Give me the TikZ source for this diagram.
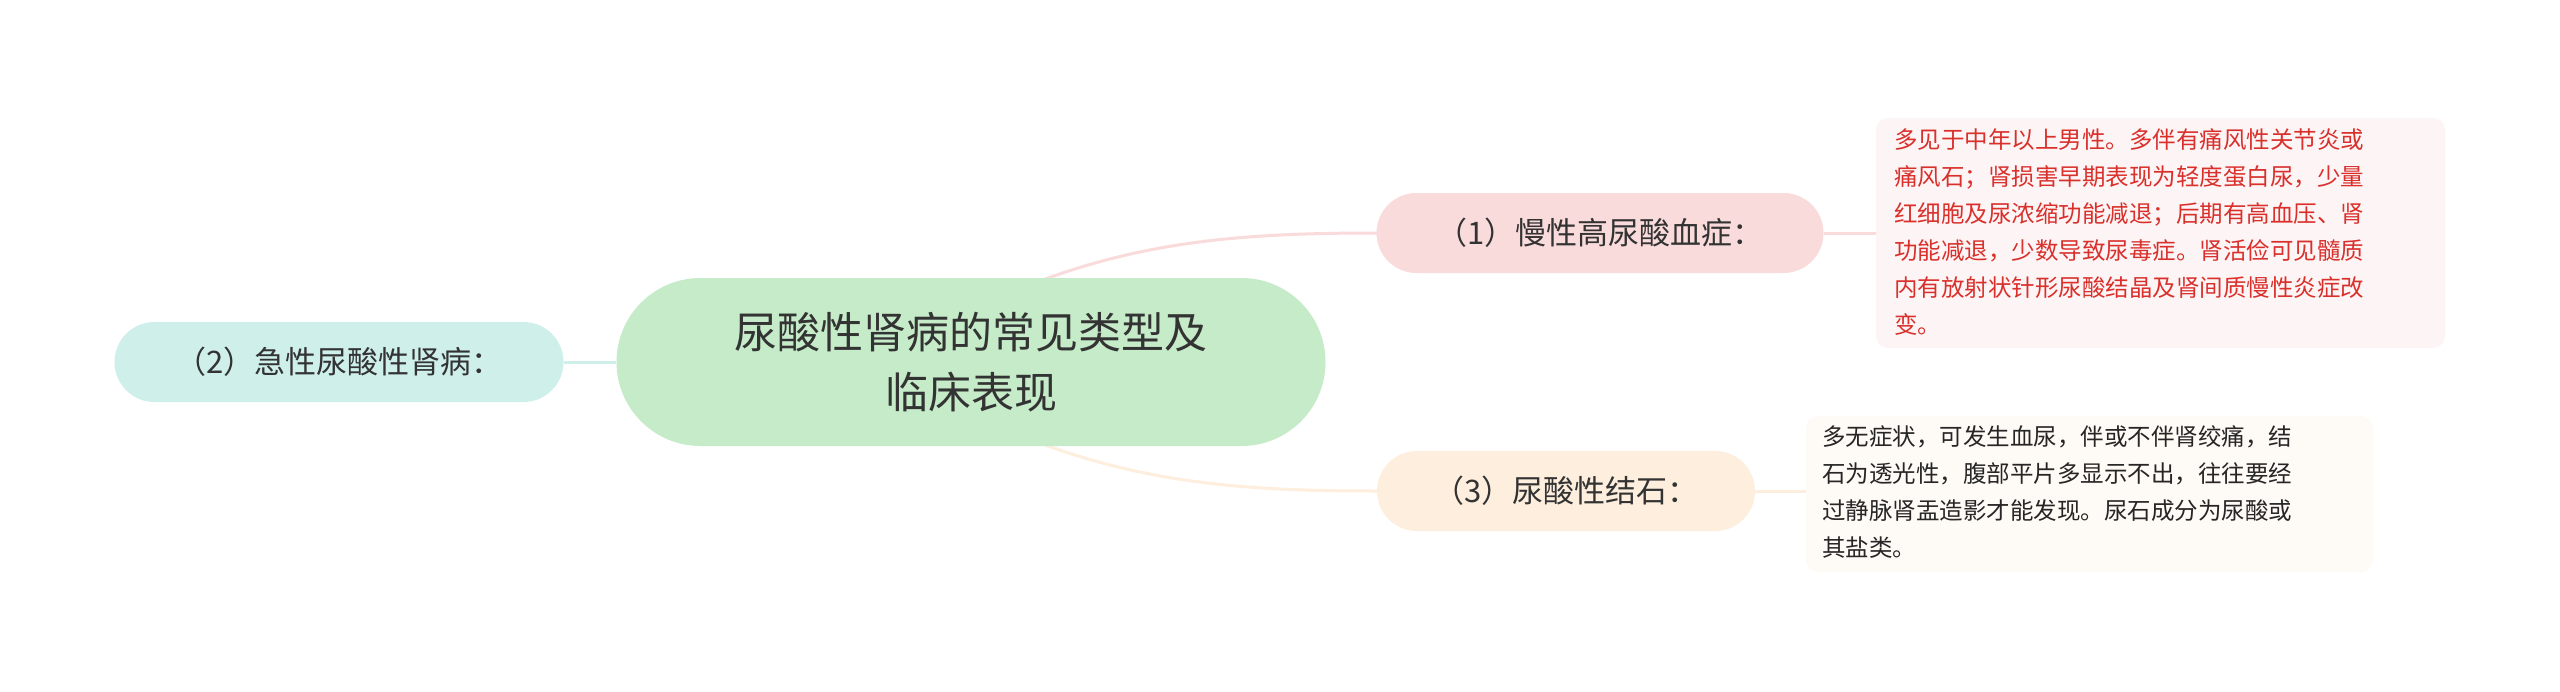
\documentclass[tikz,border=0pt]{standalone}
\usepackage{fontspec}
\setmainfont{Noto Sans CJK SC}
\definecolor{cgreen}{RGB}{197,235,201}
\definecolor{cteal}{RGB}{206,239,234}
\definecolor{cpink}{RGB}{250,219,219}
\definecolor{corange}{RGB}{253,238,221}
\definecolor{bpink}{RGB}{253,245,245}
\definecolor{borange}{RGB}{254,250,245}
\definecolor{tred}{RGB}{217,48,44}
\begin{document}
\begin{tikzpicture}[x=1pt,y=-1pt,
  topic/.style={rounded corners=40pt,minimum height=80pt,inner sep=0pt,font=\fontsize{31}{38}\selectfont,text=black!80},
  note/.style={inner sep=0pt,align=left,anchor=north west,font=\fontsize{23.5}{37}\selectfont},
  link/.style={line width=3pt}]
\useasboundingbox (0,0) rectangle (2560,691);
\fill[white] (0,0) rectangle (2560,691);
\coordinate (cc) at (971,362);
\coordinate (ca) at (1040,281);
\coordinate (cb) at (1040,443);
\coordinate (aw) at (1377,233);
\coordinate (bw) at (1377,491);
\draw[link,cpink] (ca) .. controls (1150,240) and (1250,233) .. (aw);
\draw[link,corange] (cb) .. controls (1150,484) and (1250,491) .. (bw);
\node[rounded corners=84pt,fill=cgreen,minimum width=709pt,minimum height=168pt,align=center,font=\fontsize{43}{60}\selectfont,text=black!80] (c) at (cc) {尿酸性肾病的常见类型及\\临床表现};
\node[topic,fill=cteal,minimum width=449pt] (l) at (339,362) {（2）急性尿酸性肾病：};
\node[topic,fill=cpink,minimum width=447pt] (a) at (1600,233) {（1）慢性高尿酸血症：};
\node[topic,fill=corange,minimum width=378pt] (b) at (1566,491) {（3）尿酸性结石：};
\fill[bpink,rounded corners=12pt] (1876,118) rectangle (2445,348);
\node[note,text=tred] (ta) at (1894,128) {多见于中年以上男性。多伴有痛风性关节炎或\\痛风石；肾损害早期表现为轻度蛋白尿，少量\\红细胞及尿浓缩功能减退；后期有高血压、肾\\功能减退，少数导致尿毒症。肾活俭可见髓质\\内有放射状针形尿酸结晶及肾间质慢性炎症改\\变。};
\fill[borange,rounded corners=12pt] (1806,416) rectangle (2373,572);
\node[note,text=black!85] (tb) at (1822,425) {多无症状，可发生血尿，伴或不伴肾绞痛，结\\石为透光性，腹部平片多显示不出，往往要经\\过静脉肾盂造影才能发现。尿石成分为尿酸或\\其盐类。};
\coordinate (ba) at (1876,233);
\coordinate (bb) at (1806,491);
\draw[link,cteal] (l.east) -- (c.west);
\draw[link,cpink] (a.east) -- (ba);
\draw[link,corange] (b.east) -- (bb);
\end{tikzpicture}
\end{document}
